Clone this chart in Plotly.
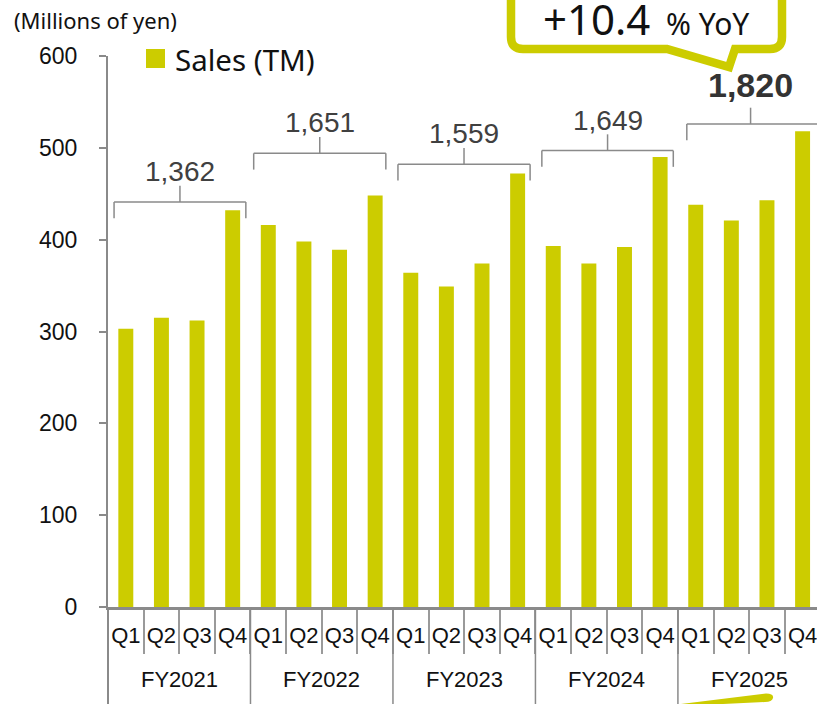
import plotly.graph_objects as go

# ---------------- data ----------------
years = ["FY2021", "FY2022", "FY2023", "FY2024", "FY2025"]
quarters = ["Q1", "Q2", "Q3", "Q4"]
sales_fy2021 = [303, 315, 312, 432]
sales_fy2022 = [416, 398, 389, 448]
sales_fy2023 = [364, 349, 374, 472]
sales_fy2024 = [393, 374, 392, 490]
sales_fy2025 = [438, 421, 443, 518]
annual_totals = [1362, 1651, 1559, 1649, 1820]
yoy_growth = "+10.4"
y_ticks = [0, 100, 200, 300, 400, 500, 600]
series_name = "Sales (TM)"
unit_label = "(Millions of yen)"

sales_by_year = [sales_fy2021, sales_fy2022, sales_fy2023, sales_fy2024, sales_fy2025]

# ---------------- layout constants ----------------
W, H = 817, 704
ML, MR, MT, MB = 108, 0, 56, 97
PW, PH = W - ML - MR, H - MT - MB
CAT_W = 35.62  # px per category
BAR_COLOR = "#CCCC00"
GRAY = "#8a8a8a"

def px_x(px):
    return (px - ML) / PW

def px_y(py):
    return (H - MB - py) / PH

cats = [f"{y} {q}" for y in years for q in quarters]
vals = [v for ys in sales_by_year for v in ys]
qtext = [q for _ in years for q in quarters]

fig = go.Figure()
fig.add_trace(go.Bar(
    x=cats, y=vals, name=series_name, width=0.42,
    marker=dict(color=BAR_COLOR, line=dict(width=0)),
    showlegend=False,
))

shapes = []
annotations = []

# bracket geometry (data units)
bracket_levels = [441, 494, 482, 497, 526]
bracket_left = [-0.33, -0.41, -0.36, -0.32, -0.25]
bracket_right = [0.37, 0.30, 0.35, 0.37, 0.70]
tick_h = 17.7
line_style = dict(color=GRAY, width=1.5)

for k, year in enumerate(years):
    first = 4 * k
    last = 4 * k + 3
    x0 = first + bracket_left[k]
    x1 = last + bracket_right[k]
    xm = first + 1.5 + (bracket_left[k] + bracket_right[k]) / 2 if k < 4 else first + 1.54
    h = bracket_levels[k]
    shapes.append(dict(type="line", xref="x", yref="y", x0=x0, x1=x1, y0=h, y1=h, line=line_style))
    shapes.append(dict(type="line", xref="x", yref="y", x0=x0, x1=x0, y0=h, y1=h - tick_h, line=line_style))
    shapes.append(dict(type="line", xref="x", yref="y", x0=x1, x1=x1, y0=h, y1=h - tick_h, line=line_style))
    shapes.append(dict(type="line", xref="x", yref="y", x0=xm, x1=xm, y0=h, y1=h + tick_h, line=line_style))
    last_year = k == len(years) - 1
    annotations.append(dict(
        x=xm, y=h + tick_h + (25 if last_year else 15.5), xref="x", yref="y",
        text=(f"<b>{annual_totals[k]:,}</b>" if last_year else f"{annual_totals[k]:,}"),
        showarrow=False, xanchor="center", yanchor="middle",
        font=dict(family="Liberation Sans", size=34 if last_year else 28,
                  color="#333333" if last_year else "#404040"),
    ))
    # year labels
    annotations.append(dict(
        x=first + 1.5, y=px_y(679), xref="x", yref="paper", text=year,
        showarrow=False, xanchor="center", yanchor="middle",
        font=dict(family="Liberation Sans", size=22, color="#111111"),
    ))
    # year dividers
    bx = first - 0.5
    if k == 0:
        shapes.append(dict(type="line", xref="paper", yref="paper", x0=0, x1=0,
                           y0=0, y1=px_y(706), line=dict(color=GRAY, width=2)))
    else:
        shapes.append(dict(type="line", xref="x", yref="paper", x0=bx, x1=bx,
                           y0=0, y1=px_y(706), line=dict(color=GRAY, width=1.5)))

# legend (manual)
shapes.append(dict(type="rect", xref="paper", yref="paper",
                   x0=px_x(146), x1=px_x(165), y0=px_y(68), y1=px_y(49),
                   fillcolor=BAR_COLOR, line=dict(width=0)))
annotations.append(dict(x=px_x(173), y=px_y(59), xref="paper", yref="paper",
                        text=series_name, showarrow=False, xanchor="left", yanchor="middle",
                        font=dict(family="Noto Sans", size=29.5, color="#111111")))

# unit label
annotations.append(dict(x=px_x(12), y=px_y(20), xref="paper", yref="paper",
                        text=unit_label, showarrow=False, xanchor="left", yanchor="middle",
                        font=dict(family="Noto Sans", size=22, color="#111111")))

# callout box
def P(px, py):
    return f"{px_x(px):.5f},{px_y(py):.5f}"

callout_path = (
    f"M {P(511, -30)} L {P(511, 37)} Q {P(511, 49)} {P(523, 49)} "
    f"L {P(667, 49)} L {P(729, 67)} L {P(735, 49)} "
    f"L {P(770, 49)} Q {P(782, 49)} {P(782, 37)} L {P(782, -30)}"
)
shapes.append(dict(type="path", xref="paper", yref="paper", path=callout_path,
                   line=dict(color=BAR_COLOR, width=8.5), fillcolor="rgba(0,0,0,0)"))
annotations.append(dict(x=px_x(646), y=px_y(18), xref="paper", yref="paper",
                        text=f"{yoy_growth}<span style='font-size:30px'>  % YoY</span>",
                        showarrow=False, xanchor="center", yanchor="middle",
                        font=dict(family="Noto Sans", size=42, color="#111111")))

# swoosh at bottom
swoosh = (
    f"M {P(681, 704)} L {P(766, 693.5)} Q {P(774, 693.5)} {P(773, 698)} "
    f"Q {P(772, 702)} {P(765, 702)} L {P(681, 706)} Z"
)
shapes.append(dict(type="path", xref="paper", yref="paper", path=swoosh,
                   fillcolor=BAR_COLOR, line=dict(width=0)))

fig.update_layout(
    width=W, height=H,
    margin=dict(l=ML, r=MR, t=MT, b=MB, pad=0, autoexpand=False),
    paper_bgcolor="white", plot_bgcolor="white",
    bargap=0.58,
    shapes=shapes, annotations=annotations,
    xaxis=dict(
        type="category", categoryorder="array", categoryarray=cats,
        range=[-0.5, -0.5 + PW / CAT_W], automargin=False,
        tickmode="array", tickvals=cats, ticktext=qtext, tickangle=0,
        tickson="boundaries", ticks="outside", ticklen=44, tickwidth=1.5, tickcolor="#9a9a9a",
        ticklabelstandoff=7,
        showline=True, linecolor=GRAY, linewidth=2.5,
        showgrid=False, zeroline=False,
        tickfont=dict(family="Liberation Sans", size=22, color="#111111"),
    ),
    yaxis=dict(
        range=[0, 600], tickmode="array", tickvals=y_ticks, automargin=False,
        ticks="outside", ticklen=7, tickwidth=2, tickcolor=GRAY,
        ticklabelstandoff=17,
        showline=True, linecolor=GRAY, linewidth=2,
        showgrid=False, zeroline=False,
        tickfont=dict(family="Liberation Sans", size=23, color="#111111"),
    ),
)

fig.write_html(
    "out.html",
    config={"displayModeBar": False},
    post_script="document.body.style.margin='0';document.body.style.overflow='hidden';",
)
